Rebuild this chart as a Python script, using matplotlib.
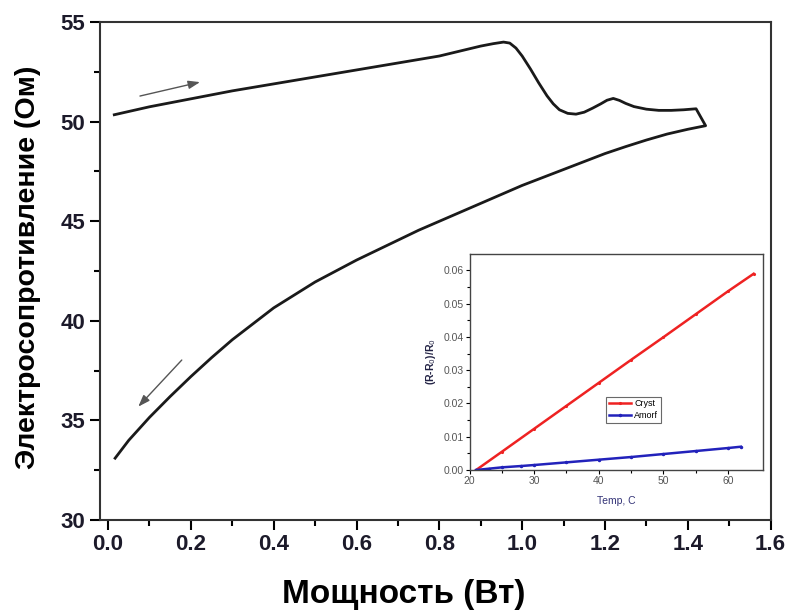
import numpy as np
import matplotlib
matplotlib.use("Agg")
import matplotlib.pyplot as plt

plt.rcParams['font.family'] = ['Liberation Sans', 'DejaVu Sans']

# Heating branch (power W, resistance Ohm)
p_heat = [0.015, 0.1, 0.2, 0.3, 0.4, 0.5, 0.6, 0.7, 0.8, 0.86, 0.9, 0.93, 0.955, 0.97,
          0.985, 1.0, 1.02, 1.04, 1.06, 1.075, 1.09, 1.11, 1.13, 1.15, 1.17, 1.19,
          1.205, 1.22, 1.235, 1.25, 1.27, 1.3, 1.33, 1.36, 1.39, 1.42, 1.443]
r_heat = [50.35, 50.75, 51.15, 51.55, 51.9, 52.25, 52.6, 52.95, 53.3, 53.6, 53.8, 53.92,
          54.0, 53.95, 53.7, 53.3, 52.65, 51.95, 51.3, 50.9, 50.6, 50.42, 50.38, 50.48,
          50.68, 50.9, 51.08, 51.17, 51.07, 50.92, 50.76, 50.63, 50.57, 50.57, 50.6,
          50.65, 49.8]
# Cooling branch
p_cool = [1.443, 1.4, 1.35, 1.3, 1.25, 1.2, 1.15, 1.1, 1.05, 1.0, 0.95, 0.9, 0.85, 0.8,
          0.75, 0.7, 0.65, 0.6, 0.55, 0.5, 0.45, 0.4, 0.35, 0.3, 0.25, 0.2, 0.15, 0.1,
          0.05, 0.017]
r_cool = [49.8, 49.62, 49.38, 49.08, 48.75, 48.4, 48.0, 47.6, 47.2, 46.8, 46.35, 45.9,
          45.45, 45.0, 44.55, 44.05, 43.55, 43.05, 42.5, 41.95, 41.3, 40.65, 39.85,
          39.05, 38.15, 37.2, 36.2, 35.15, 34.0, 33.1]

# Arrows (start -> end)
arrow_up = [(0.077, 51.29), (0.222, 51.99)]
arrow_down = [(0.178, 38.03), (0.073, 35.69)]

x_ticks = [0.0, 0.2, 0.4, 0.6, 0.8, 1.0, 1.2, 1.4, 1.6]
y_ticks = [30, 35, 40, 45, 50, 55]

# Inset data
temp_cryst = [21, 25, 30, 35, 40, 45, 50, 55, 60, 64]
dr_cryst = [0.0, 0.0055, 0.0124, 0.0193, 0.0262, 0.0331, 0.0399, 0.0468, 0.0537, 0.059]
temp_amorf = [21, 23, 25, 28, 30, 35, 40, 45, 50, 55, 60, 62]
dr_amorf = [0.0, 0.0004, 0.0008, 0.0012, 0.0015, 0.0023, 0.0031, 0.0039, 0.0048, 0.0057, 0.0066, 0.007]
inset_xticks = [20, 30, 40, 50, 60]
inset_yticks = [0.0, 0.01, 0.02, 0.03, 0.04, 0.05, 0.06]

fig = plt.figure(figsize=(7.92, 6.16), dpi=100)
ax = fig.add_axes([0.126, 0.156, 0.847, 0.808])

ax.plot(p_heat + p_cool[1:], r_heat + r_cool[1:], color='#1a1a1a', lw=2.0,
        solid_joinstyle='round')
ax.set_xlim(-0.02, 1.6)
ax.set_ylim(30, 55)
ax.set_xticks(x_ticks)
ax.set_yticks(y_ticks)
ax.set_xticks(np.arange(0.1, 1.6, 0.2), minor=True)
ax.set_yticks(np.arange(32.5, 55, 5), minor=True)
ax.set_xticklabels([f"{v:.1f}" for v in x_ticks])
ax.tick_params(axis='both', which='major', direction='out', length=7, width=1.5,
               labelsize=16, labelcolor='#1c1a2a', top=False, right=False)
ax.tick_params(axis='both', which='minor', direction='out', length=4, width=1.5,
               top=False, right=False)
for lab in ax.get_xticklabels() + ax.get_yticklabels():
    lab.set_fontweight('bold')
for s in ax.spines.values():
    s.set_linewidth(1.5)
    s.set_color('#333333')

ax.set_xlabel('Мощность (Вт)', fontsize=24, fontweight='bold')
ax.xaxis.set_label_coords(0.453, -0.118)
ax.set_ylabel('Электросопротивление (Ом)', fontsize=20.5, fontweight='bold')
ax.yaxis.set_label_coords(-0.087, 0.508)

for (s, e) in (arrow_up, arrow_down):
    ax.annotate('', xy=e, xytext=s,
                arrowprops=dict(arrowstyle='-|>,head_length=0.7,head_width=0.25',
                                color='#555555', lw=1.0, shrinkA=0, shrinkB=0))

# Inset
ins = fig.add_axes([0.593, 0.237, 0.370, 0.351])
ins.plot(temp_cryst, dr_cryst, color='#ee2222', lw=1.8, marker='.', ms=2.5, label='Cryst')
ins.plot(temp_amorf, dr_amorf, color='#2222bb', lw=1.8, marker='.', ms=3, label='Amorf')
ins.set_xlim(20, 65.4)
ins.set_ylim(0, 0.065)
ins.set_xticks(inset_xticks)
ins.set_yticks(inset_yticks)
ins.set_xticks(np.arange(25, 65, 10), minor=True)
ins.set_yticks(np.arange(0.005, 0.065, 0.01), minor=True)
ins.set_yticklabels([f"{v:.2f}" for v in inset_yticks])
ins.tick_params(axis='both', which='major', direction='out', length=3, width=0.8,
                labelsize=7.5, labelcolor='#555555', pad=1.5)
ins.tick_params(axis='both', which='minor', direction='out', length=2, width=0.8)
for s in ins.spines.values():
    s.set_linewidth(1.0)
    s.set_color('#444444')
ins.set_xlabel('Temp, C', fontsize=7.5, color='#333377', labelpad=7)
ins.set_ylabel(r'(R-R$_0$)/R$_0$', fontsize=7.5, fontweight='bold', color='#222244', labelpad=4)
leg = ins.legend(loc='upper left', bbox_to_anchor=(0.45, 0.36), fontsize=6.5, frameon=True,
                 fancybox=False, edgecolor='#444444', handlelength=2.5, borderpad=0.3,
                 labelspacing=0.3, handletextpad=0.3)
leg.get_frame().set_linewidth(0.8)

fig.savefig('out.png', dpi=100)
